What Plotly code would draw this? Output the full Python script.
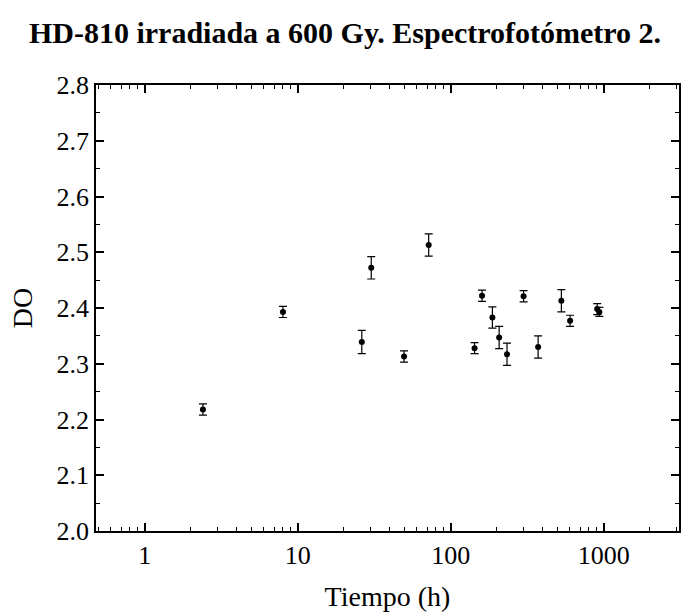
import math
import plotly.graph_objects as go

# Tiempo (h) vs optical density (DO) with uncertainty
tiempo = [2.4, 8.0, 26.2, 30.2, 49.5, 71.7, 143, 160, 187, 207, 233, 299, 372, 528, 602, 905, 935]
do_vals = [2.218, 2.393, 2.339, 2.472, 2.313, 2.513, 2.328, 2.422, 2.383, 2.347, 2.317, 2.421, 2.330, 2.413, 2.377, 2.398, 2.393]
do_err = [0.010, 0.010, 0.021, 0.020, 0.010, 0.020, 0.010, 0.010, 0.019, 0.020, 0.020, 0.010, 0.020, 0.020, 0.010, 0.010, 0.008]

x_ticks = [1, 10, 100, 1000]
y_ticks = [2.0, 2.1, 2.2, 2.3, 2.4, 2.5, 2.6, 2.7, 2.8]

serif = "Liberation Serif, Times New Roman, serif"

fig = go.Figure()
fig.add_trace(go.Scatter(
    x=tiempo, y=do_vals, mode="markers",
    marker=dict(color="black", size=6, symbol="circle"),
    error_y=dict(type="data", array=do_err, visible=True,
                 color="black", thickness=1.2, width=4),
    showlegend=False,
))

axis_common = dict(
    showline=True, linecolor="black", linewidth=1.8, mirror="ticks",
    ticks="inside", tickcolor="black", tickwidth=1.5,
    showgrid=False, zeroline=False, automargin=False,
    tickfont=dict(family=serif, size=26, color="black"),
)

fig.update_xaxes(
    type="log",
    range=[math.log10(0.48), math.log10(3100)],
    tickvals=x_ticks, ticktext=[str(v) for v in x_ticks],
    ticklen=8,
    minor=dict(ticks="inside", ticklen=4, tickcolor="black", tickwidth=1.2,
               dtick="D1", showgrid=False),
    title=dict(text="Tiempo (h)", font=dict(family=serif, size=28, color="black"),
               standoff=19),
    **axis_common,
)
fig.update_yaxes(
    range=[2.0, 2.8],
    tickvals=y_ticks, ticktext=[f"{v:.1f}" for v in y_ticks],
    ticklen=8,
    minor=dict(ticks="inside", ticklen=4, tickcolor="black", tickwidth=1.2,
               dtick=0.05, showgrid=False),
    title=dict(text="DO", font=dict(family=serif, size=28, color="black"),
               standoff=16),
    **axis_common,
)

fig.update_layout(
    width=690, height=612,
    margin=dict(l=96, r=11, t=85, b=81),
    paper_bgcolor="white", plot_bgcolor="white",
    title=dict(text="<b>HD-810 irradiada a 600 Gy. Espectrofotómetro 2.</b>",
               x=0.5, xanchor="center", y=0.947, yanchor="middle",
               font=dict(family=serif, size=30, color="black")),
)

fig.write_html("out.html")
